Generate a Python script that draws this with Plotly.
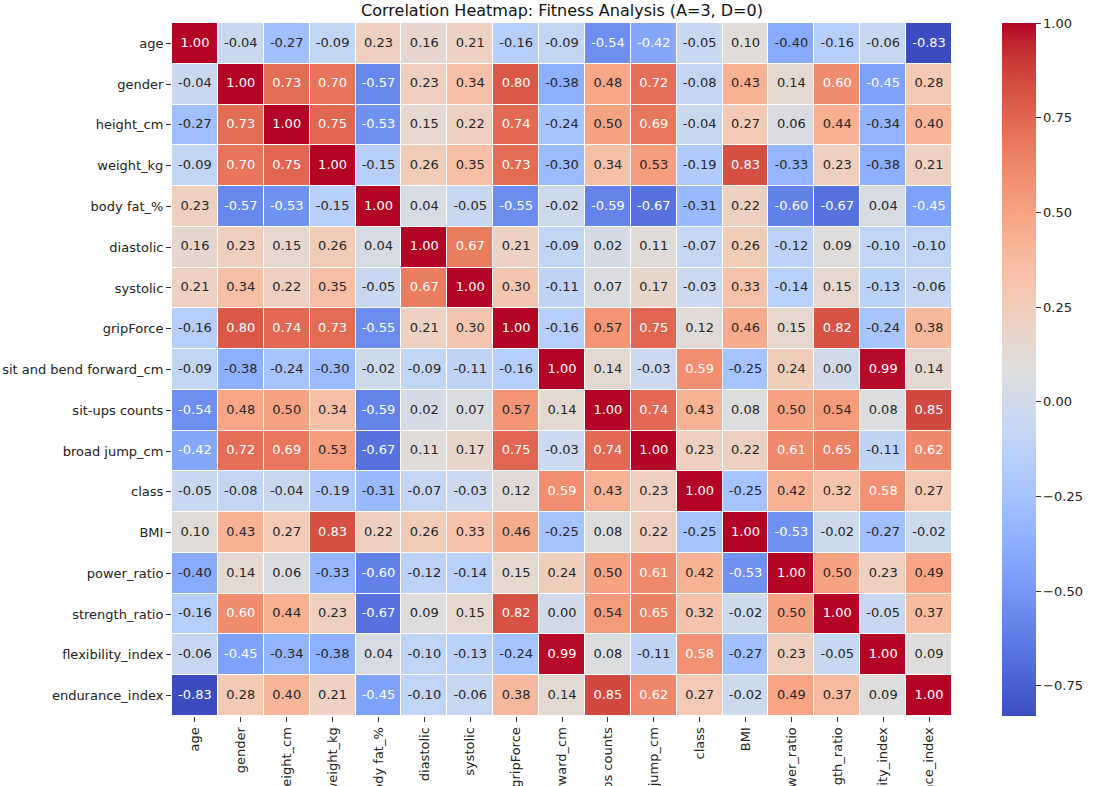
import numpy as np
import plotly.graph_objects as go

labels = ["age", "gender", "height_cm", "weight_kg", "body fat_%", "diastolic", "systolic",
          "gripForce", "sit and bend forward_cm", "sit-ups counts", "broad jump_cm", "class",
          "BMI", "power_ratio", "strength_ratio", "flexibility_index", "endurance_index"]

corr = [
    [1.00, -0.04, -0.27, -0.09, 0.23, 0.16, 0.21, -0.16, -0.09, -0.54, -0.42, -0.05, 0.10, -0.40, -0.16, -0.06, -0.83],
    [-0.04, 1.00, 0.73, 0.70, -0.57, 0.23, 0.34, 0.80, -0.38, 0.48, 0.72, -0.08, 0.43, 0.14, 0.60, -0.45, 0.28],
    [-0.27, 0.73, 1.00, 0.75, -0.53, 0.15, 0.22, 0.74, -0.24, 0.50, 0.69, -0.04, 0.27, 0.06, 0.44, -0.34, 0.40],
    [-0.09, 0.70, 0.75, 1.00, -0.15, 0.26, 0.35, 0.73, -0.30, 0.34, 0.53, -0.19, 0.83, -0.33, 0.23, -0.38, 0.21],
    [0.23, -0.57, -0.53, -0.15, 1.00, 0.04, -0.05, -0.55, -0.02, -0.59, -0.67, -0.31, 0.22, -0.60, -0.67, 0.04, -0.45],
    [0.16, 0.23, 0.15, 0.26, 0.04, 1.00, 0.67, 0.21, -0.09, 0.02, 0.11, -0.07, 0.26, -0.12, 0.09, -0.10, -0.10],
    [0.21, 0.34, 0.22, 0.35, -0.05, 0.67, 1.00, 0.30, -0.11, 0.07, 0.17, -0.03, 0.33, -0.14, 0.15, -0.13, -0.06],
    [-0.16, 0.80, 0.74, 0.73, -0.55, 0.21, 0.30, 1.00, -0.16, 0.57, 0.75, 0.12, 0.46, 0.15, 0.82, -0.24, 0.38],
    [-0.09, -0.38, -0.24, -0.30, -0.02, -0.09, -0.11, -0.16, 1.00, 0.14, -0.03, 0.59, -0.25, 0.24, 0.00, 0.99, 0.14],
    [-0.54, 0.48, 0.50, 0.34, -0.59, 0.02, 0.07, 0.57, 0.14, 1.00, 0.74, 0.43, 0.08, 0.50, 0.54, 0.08, 0.85],
    [-0.42, 0.72, 0.69, 0.53, -0.67, 0.11, 0.17, 0.75, -0.03, 0.74, 1.00, 0.23, 0.22, 0.61, 0.65, -0.11, 0.62],
    [-0.05, -0.08, -0.04, -0.19, -0.31, -0.07, -0.03, 0.12, 0.59, 0.43, 0.23, 1.00, -0.25, 0.42, 0.32, 0.58, 0.27],
    [0.10, 0.43, 0.27, 0.83, 0.22, 0.26, 0.33, 0.46, -0.25, 0.08, 0.22, -0.25, 1.00, -0.53, -0.02, -0.27, -0.02],
    [-0.40, 0.14, 0.06, -0.33, -0.60, -0.12, -0.14, 0.15, 0.24, 0.50, 0.61, 0.42, -0.53, 1.00, 0.50, 0.23, 0.49],
    [-0.16, 0.60, 0.44, 0.23, -0.67, 0.09, 0.15, 0.82, 0.00, 0.54, 0.65, 0.32, -0.02, 0.50, 1.00, -0.05, 0.37],
    [-0.06, -0.45, -0.34, -0.38, 0.04, -0.10, -0.13, -0.24, 0.99, 0.08, -0.11, 0.58, -0.27, 0.23, -0.05, 1.00, 0.09],
    [-0.83, 0.28, 0.40, 0.21, -0.45, -0.10, -0.06, 0.38, 0.14, 0.85, 0.62, 0.27, -0.02, 0.49, 0.37, 0.09, 1.00],
]

cbar_ticks = [-0.75, -0.50, -0.25, 0.00, 0.25, 0.50, 0.75, 1.00]

# matplotlib "coolwarm" control points (Moreland)
cw = [(59, 76, 192), (68, 90, 204), (77, 104, 215), (87, 117, 225), (98, 130, 234),
      (108, 142, 241), (119, 154, 247), (130, 165, 251), (141, 176, 254), (152, 185, 255),
      (163, 194, 255), (174, 201, 253), (184, 208, 249), (194, 213, 244), (204, 217, 238),
      (213, 219, 230), (221, 221, 221), (229, 216, 209), (236, 211, 197), (241, 204, 184),
      (245, 196, 172), (247, 187, 160), (247, 177, 148), (247, 166, 135), (244, 154, 123),
      (241, 141, 111), (236, 127, 99), (229, 112, 88), (222, 96, 77), (213, 80, 66),
      (203, 62, 56), (192, 40, 47), (180, 4, 38)]
n = len(cw)
colorscale = [[i / (n - 1), "rgb(%d,%d,%d)" % c] for i, c in enumerate(cw)]

z = np.array(corr)
zmin, zmax = float(z.min()), float(z.max())
pos = np.linspace(0, 1, n)
arr = np.array(cw, dtype=float) / 255.0


def cmap(v):
    t = (v - zmin) / (zmax - zmin)
    idx = min(max(int(t * 256), 0), 255)
    tq = idx / 255.0
    return np.array([np.interp(tq, pos, arr[:, k]) for k in range(3)])


def lum(rgb):
    rgb = np.where(rgb <= 0.03928, rgb / 12.92, ((rgb + 0.055) / 1.055) ** 2.4)
    return float(rgb.dot([0.2126, 0.7152, 0.0722]))


xs, ys, texts, tcolors = [], [], [], []
for i, rl in enumerate(labels):
    for j, cl in enumerate(labels):
        v = corr[i][j]
        xs.append(cl)
        ys.append(rl)
        texts.append("%.2f" % v)
        tcolors.append("rgb(38,38,38)" if lum(cmap(v)) > 0.408 else "white")

font = "DejaVu Sans"
L, R, T, B = 172, 952, 23, 716
W, H = 1095, 786
pw = R - L

fig = go.Figure()
fig.add_trace(go.Heatmap(
    z=corr, x=labels, y=labels, colorscale=colorscale, zmin=zmin, zmax=zmax,
    xgap=1, ygap=1, hoverinfo="skip",
    colorbar=dict(
        x=(1002 - L) / pw, xanchor="left", xpad=0, y=0.5, yanchor="middle", len=1.0, lenmode="fraction",
        ypad=0, thickness=34, outlinewidth=0, tickvals=cbar_ticks, tickformat=".2f",
        ticks="outside", ticklen=5, tickcolor="#333", tickfont=dict(family=font, size=13, color="#222"),
    ),
))
fig.add_trace(go.Scatter(
    x=xs, y=ys, mode="text", text=texts,
    textfont=dict(family=font, size=13, color=tcolors), hoverinfo="skip", showlegend=False,
))

fig.update_layout(
    width=W, height=H,
    paper_bgcolor="white", plot_bgcolor="white",
    margin=dict(l=L, r=W - R, t=T, b=H - B, autoexpand=False),
    title=dict(text="Correlation Heatmap: Fitness Analysis (A=3, D=0)", x=(L + R) / 2 / W,
               xanchor="center", y=1 - 10 / H, yanchor="middle",
               font=dict(family=font, size=16, color="#111")),
    font=dict(family=font, size=13, color="#222"),
)
fig.update_xaxes(type="category", range=[-0.5, len(labels) - 0.5], tickangle=-90, ticks="outside",
                 ticklen=5, tickcolor="#333",
                 showgrid=False, zeroline=False, showline=False, automargin=False,
                 tickfont=dict(family=font, size=13, color="#222"))
fig.update_yaxes(type="category", range=[len(labels) - 0.5, -0.5], ticks="outside", ticklen=5,
                 tickcolor="#333",
                 showgrid=False, zeroline=False, showline=False, automargin=False,
                 tickfont=dict(family=font, size=13, color="#222"))

fig.write_html("out.html", config={"displayModeBar": False},
               post_script="document.body.style.margin='0px';document.body.style.overflow='hidden';")
